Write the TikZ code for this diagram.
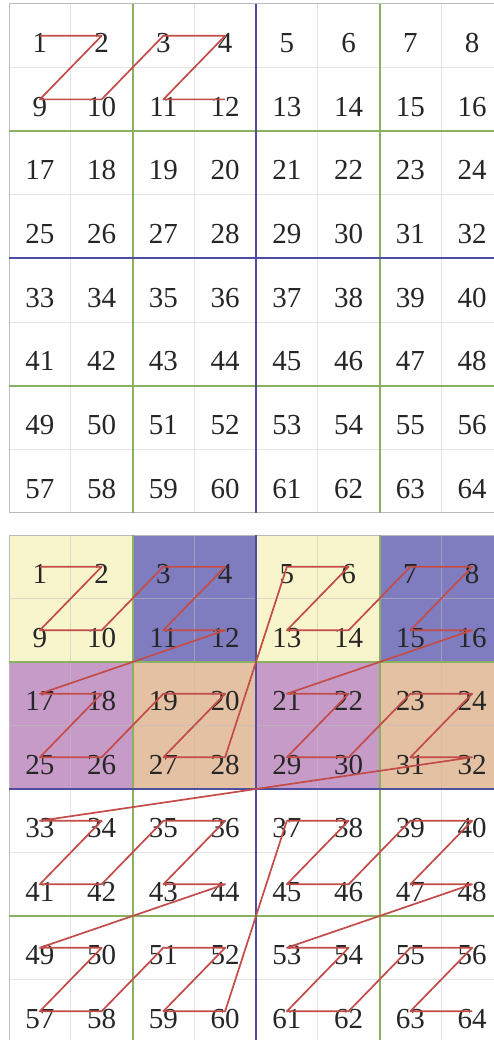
\documentclass[tikz,border=0pt]{standalone}
\usepackage{fontspec}
\setmainfont{Liberation Serif}
\definecolor{cyel}{HTML}{F8F4CC}
\definecolor{cblu}{HTML}{7F7DC0}
\definecolor{cpnk}{HTML}{C79BC8}
\definecolor{ctan}{HTML}{E3C1A2}
\definecolor{zred}{HTML}{C44C48}
\definecolor{zgrn}{HTML}{8AB060}
\definecolor{zblu}{HTML}{4E4E9E}
\definecolor{zthin}{HTML}{E4E4E4}
\definecolor{zbord}{HTML}{BBBBBB}
\tikzset{
  thin grid/.style={draw=zthin, line width=0.8pt},
  green rule/.style={draw=zgrn, line width=2pt},
  blue rule/.style={draw=zblu, line width=2.2pt},
  border/.style={draw=zbord, line width=1pt},
  num/.style={anchor=base, inner sep=0pt, text=black!85, font=\fontsize{29}{31}\selectfont},
  zline/.style={draw=zred, line width=1.7pt, line join=round}
}
\begin{document}
\begin{tikzpicture}[x=1pt,y=-1pt]
\useasboundingbox (0,0) rectangle (494,1040);
\fill[white] (0,0) rectangle (494,1040);
\clip (0,0) rectangle (494,1040);
\def\cw{61.75}
\def\cht{63.6}
\def\chb{63.5}
% ---------- top grid ----------
\foreach \i in {1,...,7}{
  \draw[thin grid] ({9+\i*\cw},4) -- ({9+\i*\cw},{4+8*\cht});
  \draw[thin grid] (9,{4+\i*\cht}) -- ({9+8*\cw},{4+\i*\cht});
}
\draw[border] (9,4) rectangle ({9+8*\cw},{4+8*\cht});
\foreach \i in {2,6}{
  \draw[green rule] ({9+\i*\cw},4) -- ({9+\i*\cw},{4+8*\cht});
  \draw[green rule] (9,{4+\i*\cht}) -- ({9+8*\cw},{4+\i*\cht});
}
\draw[blue rule] ({9+4*\cw},4) -- ({9+4*\cw},{4+8*\cht});
\draw[blue rule] (9,{4+4*\cht}) -- ({9+8*\cw},{4+4*\cht});
\foreach \r in {0,...,7}{
  \foreach \c in {0,...,7}{
    \pgfmathtruncatemacro\n{8*\r+\c+1}
    \coordinate (t\n) at ({9+(\c+0.5)*\cw},{4+(\r+0.5)*\cht});
    \node[num] (tl\n) at ({9+(\c+0.5)*\cw},{4+(\r+0.5)*\cht+17}) {\n};
  }
}
\draw[zline] (t1) -- (t2) -- (t9) -- (t10) -- (t3) -- (t4) -- (t11) -- (t12);
% ---------- bottom grid ----------
\fill[cyel] (9,535) rectangle +({2*\cw},{2*\chb});
\fill[cblu] ({9+2*\cw},535) rectangle +({2*\cw},{2*\chb});
\fill[cyel] ({9+4*\cw},535) rectangle +({2*\cw},{2*\chb});
\fill[cblu] ({9+6*\cw},535) rectangle +({2*\cw},{2*\chb});
\fill[cpnk] (9,{535+2*\chb}) rectangle +({2*\cw},{2*\chb});
\fill[ctan] ({9+2*\cw},{535+2*\chb}) rectangle +({2*\cw},{2*\chb});
\fill[cpnk] ({9+4*\cw},{535+2*\chb}) rectangle +({2*\cw},{2*\chb});
\fill[ctan] ({9+6*\cw},{535+2*\chb}) rectangle +({2*\cw},{2*\chb});
\foreach \i in {1,...,7}{
  \draw[thin grid, draw opacity=0.5, draw=black!25] ({9+\i*\cw},535) -- ({9+\i*\cw},{535+4*\chb});
  \draw[thin grid] ({9+\i*\cw},{535+4*\chb}) -- ({9+\i*\cw},{535+8*\chb});
}
\foreach \i in {1,2,3}{
  \draw[thin grid, draw opacity=0.5, draw=black!25] (9,{535+\i*\chb}) -- ({9+8*\cw},{535+\i*\chb});
}
\foreach \i in {5,6,7}{
  \draw[thin grid] (9,{535+\i*\chb}) -- ({9+8*\cw},{535+\i*\chb});
}
\draw[border] (9,535) rectangle ({9+8*\cw},{535+8*\chb});
\foreach \i in {2,6}{
  \draw[green rule] ({9+\i*\cw},535) -- ({9+\i*\cw},{535+8*\chb});
  \draw[green rule] (9,{535+\i*\chb}) -- ({9+8*\cw},{535+\i*\chb});
}
\draw[blue rule] ({9+4*\cw},535) -- ({9+4*\cw},{535+8*\chb});
\draw[blue rule] (9,{535+4*\chb}) -- ({9+8*\cw},{535+4*\chb});
\foreach \r in {0,...,7}{
  \foreach \c in {0,...,7}{
    \pgfmathtruncatemacro\n{8*\r+\c+1}
    \coordinate (b\n) at ({9+(\c+0.5)*\cw},{535+(\r+0.5)*\chb});
    \node[num] (bl\n) at ({9+(\c+0.5)*\cw},{535+(\r+0.5)*\chb+17}) {\n};
  }
}
\draw[zline] (b1) -- (b2) -- (b9) -- (b10) -- (b3) -- (b4) -- (b11) -- (b12)
  -- (b17) -- (b18) -- (b25) -- (b26) -- (b19) -- (b20) -- (b27) -- (b28)
  -- (b5) -- (b6) -- (b13) -- (b14) -- (b7) -- (b8) -- (b15) -- (b16)
  -- (b21) -- (b22) -- (b29) -- (b30) -- (b23) -- (b24) -- (b31) -- (b32)
  -- (b33) -- (b34) -- (b41) -- (b42) -- (b35) -- (b36) -- (b43) -- (b44)
  -- (b49) -- (b50) -- (b57) -- (b58) -- (b51) -- (b52) -- (b59) -- (b60)
  -- (b37) -- (b38) -- (b45) -- (b46) -- (b39) -- (b40) -- (b47) -- (b48)
  -- (b53) -- (b54) -- (b61) -- (b62) -- (b55) -- (b56) -- (b63) -- (b64);
\end{tikzpicture}
\end{document}
